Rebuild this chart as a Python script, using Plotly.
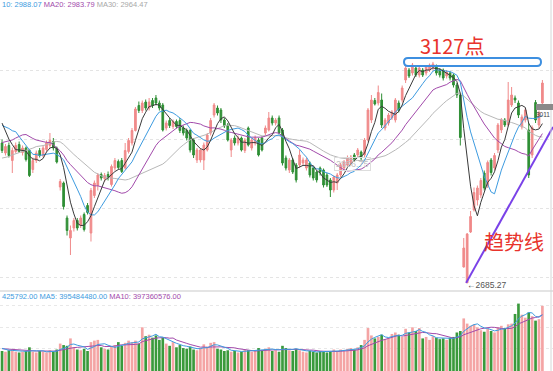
import pandas as pd
import plotly.graph_objects as go

# ---------------- data ----------------
seed_close = [2909, 2914, 2892, 2852, 2898, 2880, 2890, 2862, 2861, 2827,
              2852, 2925, 2909, 2910, 2882, 2887, 2890, 2917, 2987, 3001,
              3008, 2982, 2976, 2996, 2979, 3044, 3043, 3015, 3005, 3011]
seed_volume = [1.45, 1.50, 1.60, 1.40, 1.35, 1.55, 1.70, 1.65, 1.50, 1.45]

ohlc = [
 (2965,2972,2945,2950),(2945,2963,2940,2958),(2960,2966,2936,2940),(2930,2956,2905,2950),
 (2948,2966,2944,2960),(2962,2968,2945,2948),(2946,2960,2940,2955),(2955,2958,2928,2932),
 (2950,2953,2897,2900),(2912,2936,2905,2930),(2930,2950,2925,2945),(2950,2955,2936,2940),
 (2940,2960,2936,2955),(2952,2970,2948,2965),(2960,2985,2955,2970),(2968,2975,2950,2955),
 (2955,2958,2924,2927),(2877,2893,2870,2888),(2885,2888,2832,2838),(2815,2820,2780,2790),
 (2775,2800,2741,2790),(2795,2815,2788,2810),(2810,2815,2790,2795),(2800,2820,2795,2815),
 (2822,2826,2788,2792),(2840,2845,2822,2826),(2785,2875,2768,2870),(2860,2890,2855,2885),
 (2880,2905,2870,2901),(2902,2906,2890,2895),(2894,2905,2888,2900),(2902,2908,2890,2896),
 (2882,2922,2878,2918),(2915,2935,2910,2930),(2928,2932,2912,2916),(2930,2935,2905,2908),
 (2915,2965,2912,2950),(2948,2975,2944,2970),(2965,2995,2960,2990),(2990,3037,2988,3033),
 (3040,3048,3025,3030),(3030,3050,3025,3045),(3047,3052,3030,3035),(3035,3055,3030,3047),
 (3050,3055,3035,3040),(3055,3061,3040,3045),(3045,3050,3030,3035),(3041,3045,2988,2991),
 (2995,3010,2990,3005),(3010,3015,2995,3000),(2998,3012,2993,3008),(3008,3012,2994,2998),
 (3010,3015,2985,2990),(2995,3000,2980,2985),(2990,2994,2970,2975),(2990,2993,2946,2951),
 (2971,2975,2935,2941),(2931,2955,2925,2951),(2931,2955,2926,2951),(2931,2966,2911,2961),
 (2951,2985,2948,2981),(2985,3015,2980,3010),(3021,3045,3016,3041),(3035,3040,3020,3025),
 (3031,3035,3005,3011),(3011,3015,2995,2999),(3001,3005,2968,2971),(2951,2975,2937,2971),
 (2975,2980,2960,2965),(2965,2980,2960,2975),(2975,2978,2948,2951),(2950,2975,2945,2971),
 (2995,2998,2958,2961),(2955,2975,2950,2971),(2965,2980,2960,2975),(2971,2975,2938,2941),
 (2975,2978,2948,2951),(2985,3000,2980,2995),(2991,3027,2988,3015),(3015,3020,3000,3005),
 (3005,3015,3000,3011),(3015,3020,2982,2985),(2991,2995,2920,2925),(2935,2940,2910,2915),
 (2911,2935,2905,2931),(2931,2935,2903,2907),(2921,2925,2886,2891),(2921,2951,2915,2941),
 (2925,2936,2920,2931),(2915,2935,2910,2931),(2925,2928,2896,2901),(2915,2918,2890,2895),
 (2907,2910,2886,2891),(2915,2918,2900,2907),(2911,2914,2876,2881),(2901,2905,2877,2881),
 (2891,2895,2857,2871),(2871,2900,2866,2897),(2885,2905,2871,2901),(2901,2925,2897,2921),
 (2915,2931,2910,2927),(2921,2940,2917,2935),(2925,2941,2920,2937),(2941,2945,2927,2931),
 (2941,2955,2936,2951),(2947,2950,2930,2935),(2941,2975,2936,2971),(2971,3035,2968,3031),
 (3011,3061,3005,3051),(3050,3055,3040,3043),(3045,3080,3040,3066),(3051,3064,2995,3001),
 (2995,3015,2990,3011),(3005,3025,3000,3021),(3015,3031,3011,3027),(3011,3055,3006,3051),
 (3045,3050,3026,3031),(3051,3080,3046,3075),(3091,3120,3085,3115),(3111,3115,3095,3099),
 (3105,3125,3100,3121),(3115,3118,3097,3101),(3101,3120,3096,3115),(3111,3115,3097,3101),
 (3105,3121,3100,3117),(3111,3124,3107,3121),(3115,3127.17,3110,3123),(3119,3122,3100,3105),
 (3111,3114,3096,3101),(3111,3114,3090,3095),(3099,3111,3094,3107),(3105,3108,3090,3095),
 (3101,3104,3076,3081),(3081,3085,3055,3061),(3061,3065,2960,2976),(2717,2775,2716,2755),
 (2685.27,2785,2685.27,2783),(2787,2829,2785,2818),(2831,2876,2828,2866),(2851,2880,2840,2875),
 (2861,2895,2855,2890),(2905,2910,2870,2875),(2880,2930,2875,2926),(2931,2935,2900,2906),
 (2915,2945,2910,2940),(2951,3005,2945,3001),(2991,3015,2985,3011),(3011,3015,2997,3001),
 (3001,3087,2998,3051),(3041,3077,3037,3061),(3055,3060,3045,3051),(3045,3050,3015,3021),
 (2997,3022,2992,3017),(3011,3035,3006,3031),(2991,3005,2895,2901),(2941,3000,2935,2996),
 (3046,3051,3005,3011),(3001,3030,2995,3026),(3045,3091,3040,3085),
]
open_ = [r[0] for r in ohlc]
high = [r[1] for r in ohlc]
low = [r[2] for r in ohlc]
close = [r[3] for r in ohlc]

volume = [
 1.35,1.30,1.40,1.45,1.30,1.25,1.30,1.35,1.60,1.30,1.25,1.35,1.30,1.25,1.40,1.30,1.45,1.85,1.75,1.70,
 2.20,1.60,1.45,1.40,1.50,1.35,1.95,2.05,2.10,1.60,1.50,1.45,1.65,1.75,1.95,1.70,1.90,2.05,1.95,2.05,
 1.85,2.95,2.35,2.45,2.25,2.40,2.10,2.25,1.85,1.70,1.95,1.60,1.75,1.55,1.50,1.65,1.45,1.40,1.55,1.80,
 1.65,1.90,1.95,1.50,1.45,1.35,1.40,1.30,1.35,1.25,1.30,1.45,1.40,1.30,1.35,1.55,1.40,1.50,1.60,1.35,
 1.40,1.30,1.70,1.55,1.40,1.35,1.50,1.40,1.30,1.25,1.35,1.30,1.25,1.35,1.30,1.25,1.30,1.45,1.35,1.45,
 1.40,1.50,1.55,1.45,1.60,1.75,2.10,2.90,2.40,2.20,2.30,2.45,2.15,2.20,2.50,2.60,2.45,2.30,2.85,2.60,
 2.95,2.70,2.90,2.20,2.30,2.10,2.35,2.25,2.15,2.20,2.10,2.25,2.30,2.60,2.70,3.55,3.20,3.05,3.15,2.95,
 2.75,2.65,2.85,2.70,2.60,2.95,3.05,2.90,3.15,3.20,3.85,4.55,3.80,3.60,3.95,3.70,3.40,3.50,4.40,
]

price_grid = [3111, 2973, 2835, 2697]
volume_grid = [1.55, 2.97, 4.39]
low_label = "2685.27"
last_label = "3011"

# ---------------- derived ----------------
n = len(close)
xs = list(range(n))
cs = pd.Series(seed_close + close, dtype=float)
vs = pd.Series(seed_volume + volume, dtype=float)
def ma(s, w, skip):
    return s.rolling(w, min_periods=1).mean().iloc[skip:].tolist()

UP, DOWN = "#f08a8a", "#2f8f35"
VUP, VDOWN = "#f4a4a4", "#3a9a3c"
C5, C10, C20, C30 = "#3a3a3a", "#3d9be0", "#a24aab", "#b8b8b8"

W, H = 553, 371
def px(x): return x / W
def py(y): return 1 - y / H

fig = go.Figure()
fig.add_trace(go.Candlestick(
    x=xs, open=open_, high=high, low=low, close=close,
    increasing=dict(line=dict(color=UP, width=1), fillcolor=UP),
    decreasing=dict(line=dict(color=DOWN, width=1), fillcolor=DOWN),
    whiskerwidth=0, xaxis="x", yaxis="y", showlegend=False, hoverinfo="skip"))
for w, col in [(30, C30), (20, C20), (10, C10), (5, C5)]:
    fig.add_trace(go.Scatter(x=xs, y=ma(cs, w, len(seed_close)), mode="lines",
                             line=dict(color=col, width=1), xaxis="x", yaxis="y",
                             showlegend=False, hoverinfo="skip"))

vcol = [VUP if c >= o else VDOWN for o, c in zip(open_, close)]
fig.add_trace(go.Bar(x=xs, y=volume, marker=dict(color=vcol, line=dict(width=0)),
                     width=0.78, xaxis="x2", yaxis="y2", showlegend=False, hoverinfo="skip"))
fig.add_trace(go.Scatter(x=xs, y=ma(vs, 10, len(seed_volume)), mode="lines",
                         line=dict(color=C20, width=1), xaxis="x2", yaxis="y2",
                         showlegend=False, hoverinfo="skip"))
fig.add_trace(go.Scatter(x=xs, y=ma(vs, 5, len(seed_volume)), mode="lines",
                         line=dict(color=C10, width=1), xaxis="x2", yaxis="y2",
                         showlegend=False, hoverinfo="skip"))

xr = [-0.6, 161.1]
main_bottom = 1 - 287 / H
vol_top = 1 - 291 / H
fig.update_layout(
    width=W, height=H, margin=dict(l=0, r=0, t=0, b=0, autoexpand=False),
    paper_bgcolor="white", plot_bgcolor="white",
    font=dict(family="Liberation Sans, Arial, sans-serif"),
    xaxis=dict(domain=[0, 1], range=xr, anchor="y", showticklabels=False, showgrid=False,
               zeroline=False, rangeslider=dict(visible=False), fixedrange=True),
    yaxis=dict(domain=[main_bottom, 1], range=[2677, 3251], tickvals=price_grid,
               showticklabels=False, gridcolor="#e4e4e4", griddash="dot", zeroline=False),
    xaxis2=dict(domain=[0, 1], range=xr, anchor="y2", matches="x", showticklabels=False,
                showgrid=False, zeroline=False),
    yaxis2=dict(domain=[0, vol_top], range=[0, 5.4], tickvals=volume_grid,
                showticklabels=False, gridcolor="#e8e8e8", griddash="dot", zeroline=False),
    bargap=0.2,
)

# rounded blue box around the high
x0, x1, y0, y1, r = 404, 541, 58, 66, 4
path = (f"M {px(x0+r)},{py(y0)} L {px(x1-r)},{py(y0)} Q {px(x1)},{py(y0)} {px(x1)},{py(y0+r)} "
        f"L {px(x1)},{py(y1-r)} Q {px(x1)},{py(y1)} {px(x1-r)},{py(y1)} "
        f"L {px(x0+r)},{py(y1)} Q {px(x0)},{py(y1)} {px(x0)},{py(y1-r)} "
        f"L {px(x0)},{py(y0+r)} Q {px(x0)},{py(y0)} {px(x0+r)},{py(y0)} Z")
shapes = [
    dict(type="path", xref="paper", yref="paper", path=path,
         line=dict(color="#3d8fe0", width=2), fillcolor="rgba(0,0,0,0)"),
    dict(type="line", xref="x", yref="y", x0=135.7, y0=2685.27, x1=161.1, y1=2997,
         line=dict(color="#7a42e8", width=2)),
    dict(type="line", xref="paper", yref="paper", x0=0, x1=1, y0=vol_top, y1=vol_top,
         line=dict(color="#c9c9c9", width=1)),
    dict(type="line", xref="paper", yref="paper", x0=px(551), x1=px(551), y0=0, y1=1,
         line=dict(color="#d6d6d6", width=1)),
    dict(type="rect", xref="paper", yref="paper", x0=px(536), x1=1, y0=py(110), y1=py(104),
         line=dict(width=0), fillcolor="#8a8a8a"),
]
fig.update_layout(shapes=shapes)

ann = [
    dict(text="3127点", x=px(452), y=py(45), font=dict(size=20, color="#e8332c",
         family="Noto Sans CJK SC, Liberation Sans"), xanchor="center", yanchor="middle"),
    dict(text="趋势线", x=px(514), y=py(241), font=dict(size=20, color="#e8332c",
         family="Noto Sans CJK SC"), xanchor="center", yanchor="middle"),
    dict(text="←" + low_label, x=px(465), y=py(285), font=dict(size=8.5, color="#555555"),
         xanchor="left", yanchor="middle"),
    dict(text=last_label, x=px(535), y=py(115), font=dict(size=6.5, color="#444444"),
         xanchor="left", yanchor="middle", borderpad=0),
    dict(text="2856.75", x=px(352), y=py(164), font=dict(size=9, color="#c0c0c0"),
         xanchor="center", yanchor="middle", bordercolor="#dddddd", borderwidth=1, borderpad=1),
    dict(text=(f'<span style="color:{C10}">10: 2988.07 </span>'
               f'<span style="color:{C20}">MA20: 2983.79 </span>'
               f'<span style="color:#a8a8a8">MA30: 2964.47</span>'),
         x=0, y=1, yshift=-4, font=dict(size=7.5), xanchor="left", yanchor="middle"),
    dict(text=(f'<span style="color:{C10}">425792.00 MA5: 395484480.00 </span>'
               f'<span style="color:{C20}">MA10: 397360576.00</span>'),
         x=0, y=py(296), font=dict(size=7.5), xanchor="left", yanchor="middle"),
]
for a in ann:
    a.setdefault("showarrow", False)
    a["xref"] = "paper"
    a["yref"] = "paper"
fig.update_layout(annotations=ann)

fig.write_html("out.html", config={"displayModeBar": False},
               post_script="document.body.style.margin='0px';document.body.style.padding='0px';")
